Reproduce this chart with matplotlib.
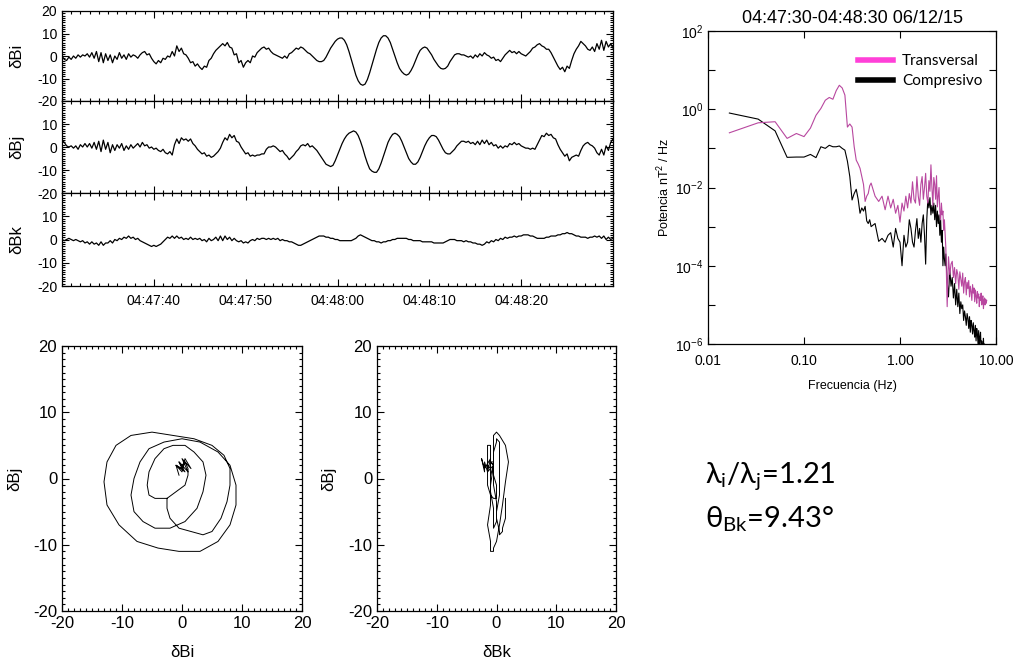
import numpy as np
import pandas as pd
import matplotlib
matplotlib.use("Agg")
import matplotlib.pyplot as plt
import matplotlib.dates as mdates
from matplotlib.ticker import MultipleLocator, FixedLocator, NullLocator, NullFormatter
from matplotlib.lines import Line2D

# ---- data: field components (nT), sampled every 0.25 s from 04:47:30 ----
dBi = [
    0.0, -1.5, -2.0, -0.5, -1.5, 0.0, -1.0, 0.5, -0.5, 0.5, 0.0, 1.0, -0.5, 1.5, -1.0, 2.0, -2.5, 1.5, -3.0, 1.0,
    -2.0, 0.5, -3.0, 0.0, -1.5, 1.5, -1.0, 0.5, -1.5, 1.0, -0.5, 0.5, 0.0, -1.0, 0.5, 1.5, 2.0, 0.5, 1.0, -1.0,
    -2.5, -3.5, -2.0, -3.0, -1.0, -1.5, 0.0, -0.5, 2.0, 0.0, 4.5, 2.0, 3.5, 1.0, 0.5, -1.0, -3.0, -2.5, -4.5, -3.5,
    -5.0, -6.0, -4.5, -5.0, -2.0, -1.0, 1.0, 2.5, 3.5, 4.5, 5.5, 4.5, 6.0, 4.0, 3.5, 0.5, 1.0, -3.0, -2.0, -5.0,
    -3.0, -2.0, -3.0, 0.0, -0.5, 1.5, 2.5, 3.5, 4.0, 3.0, 3.5, 2.0, 1.0, 0.5, 0.0, -0.5, -1.0, 0.0, -1.0, 1.0,
    1.5, 2.5, 3.5, 3.0, 4.0, 3.5, 2.5, 1.5, 1.0, 0.0, -1.0, -2.0, -2.5, -2.5, -2.0, -0.5, 1.5, 3.5, 5.0, 6.5,
    7.5, 8.0, 8.0, 7.0, 5.0, 2.0, -1.5, -5.0, -8.5, -11.0, -12.5, -13.0, -12.5, -10.5, -7.5, -4.0, -0.5, 3.0, 6.0, 8.0,
    9.0, 9.0, 8.0, 6.0, 3.0, 0.0, -3.0, -5.5, -7.0, -8.0, -8.5, -8.0, -6.5, -4.5, -2.0, 0.5, 2.5, 3.5, 4.0, 3.5,
    2.0, 0.5, -1.5, -3.0, -4.5, -5.5, -5.8, -5.5, -4.5, -2.5, -1.0, 0.5, 1.0, 1.0, 0.5, 0.5, 0.0, -0.5, 0.0, -1.0,
    0.5, -0.5, 1.0, 0.0, 1.5, 0.5, 0.0, -1.0, -0.5, -2.0, -1.5, -2.5, -1.0, 0.5, 1.5, 2.5, 1.5, 2.0, 1.0, 2.0,
    1.0, 0.5, 0.0, 1.0, 2.0, 3.5, 4.0, 5.0, 5.5, 4.5, 4.0, 3.0, 3.0, 1.5, -0.5, -2.5, -4.5, -6.0, -5.0, -7.0,
    -4.5, -5.5, -2.0, 1.0, 3.0, 4.5, 6.5, 5.5, 4.5, 3.0, 2.5, 4.0, 2.0, 5.5, 3.0, 7.0, 2.5, 6.5, 4.0, 5.5,
    3.5,
]
dBj = [
    3.0, 2.0, 0.5, 0.0, 0.5, -0.5, 0.5, -1.0, 1.0, 0.0, 1.5, 0.0, 1.5, -0.5, 2.0, -1.0, 2.5, -2.0, 3.0, -1.0,
    2.0, -2.5, 1.0, -1.5, 1.0, -0.5, 1.5, -1.5, 0.5, -1.0, 1.0, -0.5, 0.5, 1.5, 0.0, 2.0, 0.5, 1.0, -0.5, 0.0,
    -1.0, -0.5, -1.5, -2.0, -1.0, -2.5, -3.0, -2.0, -3.5, 1.0, 3.5, 1.5, 4.0, 3.0, 3.5, 2.5, 3.5, 1.5, 0.5, -1.0,
    -2.0, -3.0, -2.5, -4.0, -3.5, -4.5, -4.0, -3.0, -2.0, -0.5, 2.0, 4.0, 3.0, 5.5, 4.0, 5.0, 2.5, 2.0, 0.0, -1.5,
    -3.0, -2.5, -4.0, -3.5, -4.0, -3.5, -3.5, -3.0, -3.0, -1.0, 0.0, 0.0, 0.5, 0.0, -1.0, -2.0, -1.5, -3.0, -4.0, -5.5,
    -4.5, -3.5, -2.0, -1.0, 0.5, 1.0, 0.5, 1.5, 0.0, 0.5, -0.5, -1.5, -3.0, -4.5, -6.0, -7.5, -8.0, -8.5, -8.0, -6.0,
    -3.5, -1.0, 1.5, 3.5, 5.0, 6.0, 6.5, 7.0, 6.5, 5.0, 2.5, -0.5, -4.0, -7.0, -9.5, -10.5, -11.0, -11.0, -9.5, -7.0,
    -4.0, -1.0, 2.0, 4.0, 5.5, 6.0, 5.5, 4.5, 2.5, 0.0, -2.5, -5.0, -6.5, -7.5, -7.5, -6.5, -4.5, -2.0, 0.5, 2.5,
    4.0, 5.0, 5.0, 4.5, 3.0, 1.0, -1.0, -2.5, -3.0, -3.0, -2.0, -1.0, 0.5, 1.5, 2.5, 2.5, 2.0, 2.5, 1.5, 2.0,
    1.0, 2.5, 1.0, 3.0, 1.5, 3.0, 1.0, 2.0, 0.5, 1.0, -0.5, 0.5, -0.5, 0.5, 0.0, 1.5, 1.0, 2.0, 1.0, 1.5,
    0.5, 0.0, -0.5, -0.5, -1.0, -0.5, -1.0, 1.0, 3.0, 5.0, 4.5, 6.0, 5.0, 5.5, 4.0, 3.5, 1.0, -1.0, -2.5, -4.0,
    -3.0, -6.0, -4.5, -4.0, -3.5, -4.0, -1.5, 0.5, 1.5, 2.0, 1.0, 0.5, -0.5, -2.5, -3.5, -1.0, -3.5, 0.5, -1.5, 2.0,
    3.5,
]
dBk = [
    0.0, -0.5, 0.0, 0.5, 0.0, -0.5, 0.0, -0.5, -1.0, -0.5, -1.5, -1.0, -2.0, -1.0, -2.0, -1.5, -2.5, -1.0, -2.5, -1.5,
    -1.5, -0.5, -1.5, 0.0, -0.5, 0.5, 0.0, 1.0, 0.5, 1.5, 0.5, 1.0, 0.0, 0.5, -0.5, -1.0, -1.5, -2.0, -2.5, -3.0,
    -2.5, -3.0, -2.5, -2.0, -1.0, 0.0, 1.0, 0.5, 1.5, 0.5, 1.5, 0.5, 1.0, 0.0, 0.5, 0.0, 1.0, 0.0, 0.5, 0.0,
    0.5, -0.5, 0.0, -1.0, 0.5, -0.5, 0.0, 1.0, -0.5, 1.5, -0.5, 1.5, 0.0, 1.0, -0.5, 0.5, -0.5, -1.0, -0.5, -1.5,
    -1.0, -1.5, -0.5, 0.0, -0.5, 0.5, 0.0, 0.5, 0.5, 0.0, 0.5, 0.0, 0.5, 0.0, 0.5, -0.5, 0.0, -0.5, -0.5, -1.0,
    -1.0, -1.5, -2.0, -2.5, -2.5, -2.0, -1.5, -1.0, -0.5, 0.0, 0.5, 1.0, 1.5, 1.5, 1.5, 1.0, 1.0, 0.5, 0.5, 0.0,
    0.0, -0.5, -0.5, -0.5, -0.5, -0.5, -0.5, 0.0, 0.5, 1.5, 2.0, 1.5, 1.0, 0.5, 0.0, -0.5, -0.5, -1.0, -1.0, -1.5,
    -1.0, -1.0, -0.5, -0.5, 0.0, 0.0, 0.5, 0.5, 0.5, 0.5, 0.5, 0.0, 0.0, -0.5, -0.5, -0.5, -0.5, -1.0, -1.0, -1.0,
    -1.0, -1.0, -1.5, -1.5, -1.5, -1.5, -1.5, -1.0, -0.5, 0.0, 0.0, 0.0, -0.5, -0.5, -0.5, -1.0, -0.5, -1.0, -1.0, -1.5,
    -1.5, -2.0, -2.0, -2.5, -2.0, -1.0, -1.5, -0.5, -1.0, 0.0, -0.5, 0.5, 0.0, 1.0, 0.5, 1.0, 1.0, 1.5, 1.0, 1.5,
    1.5, 2.0, 2.0, 2.0, 1.5, 1.5, 1.0, 0.5, 0.5, 0.5, 0.5, 1.0, 1.0, 1.5, 1.5, 1.5, 2.0, 2.0, 2.5, 2.5,
    3.0, 2.5, 2.5, 2.0, 1.5, 1.5, 1.0, 1.0, 1.0, 0.5, 1.0, 1.0, 1.5, 1.0, 1.5, 0.5, 1.5, 0.0, 1.0, 0.0,
    0.5,
]
times = pd.date_range("2015-06-12 04:47:30", periods=len(dBi), freq="250ms")
time_ticks = ["04:47:40", "04:47:50", "04:48:00", "04:48:10", "04:48:20"]

# hodogram interval (wave packet): 04:47:58 - 04:48:17
hodo_start, hodo_end = 112, 189

# ---- power spectra ----
freq = [
    0.0167, 0.0333, 0.05, 0.0667, 0.0833, 0.1, 0.1167, 0.1333, 0.15, 0.1667,
    0.1833, 0.2, 0.2167, 0.2333, 0.25, 0.2667, 0.2833, 0.3, 0.3167, 0.3333,
    0.35, 0.3667, 0.3833, 0.4, 0.4167, 0.4333, 0.45, 0.4667, 0.4833, 0.5,
    0.55, 0.6, 0.65, 0.7, 0.75, 0.8, 0.85, 0.9, 0.95, 1.0,
    1.05, 1.1, 1.15, 1.2, 1.25, 1.3, 1.35, 1.4, 1.45, 1.5,
    1.55, 1.6, 1.65, 1.7, 1.75, 1.8, 1.85, 1.9, 1.95, 2.0,
    2.05, 2.1, 2.15, 2.2, 2.25, 2.3, 2.35, 2.4, 2.45, 2.5,
    2.55, 2.6, 2.65, 2.7, 2.75, 2.8, 2.85, 2.9, 2.95, 3.0,
    3.1, 3.2, 3.3, 3.4, 3.5, 3.6, 3.7, 3.8, 3.9, 4.0,
    4.1, 4.2, 4.3, 4.4, 4.5, 4.6, 4.7, 4.8, 4.9, 5.0,
    5.1, 5.2, 5.3, 5.4, 5.5, 5.6, 5.7, 5.8, 5.9, 6.0,
    6.1, 6.2, 6.3, 6.4, 6.5, 6.6, 6.7, 6.8, 6.9, 7.0,
    7.1, 7.2, 7.3, 7.4, 7.5, 7.6, 7.7, 7.8, 7.9, 8.0,
]
p_trans = [
    2.5e-1, 4.5e-1, 4.8e-1, 1.8e-1, 2.4e-1, 2.0e-1, 3.3e-1, 7.0e-1, 1.05, 1.7,
    2.0, 1.8, 3.0, 4.1, 3.5, 2.3, 3.5e-1, 4.2e-1, 3.5e-1, 1.1e-1,
    5.0e-2, 4.0e-2, 3.1e-2, 1.9e-2, 1.2e-2, 4.4e-3, 6.0e-3, 7.0e-3, 1.1e-2, 1.3e-2,
    6.0e-3, 4.4e-3, 6.0e-3, 2.7e-3, 6.0e-3, 3.0e-3, 5.0e-3, 2.2e-3, 3.5e-3, 1.3e-3,
    4.0e-3, 2.5e-3, 6.0e-3, 3.0e-3, 7.0e-3, 4.0e-3, 1.4e-2, 5.0e-3, 4.0e-3, 1.9e-2,
    6.0e-3, 3.5e-3, 1.2e-2, 1.9e-2, 5.0e-3, 1.0e-2, 2.3e-2, 6.0e-3, 4.0e-3, 1.5e-2,
    8.0e-3, 3.8e-2, 1.0e-2, 3.5e-3, 1.8e-2, 1.2e-2, 5.0e-3, 2.0e-2, 3.2e-3, 6.0e-3,
    1.0e-2, 2.5e-3, 1.5e-3, 4.0e-3, 2.0e-3, 2.5e-3, 8.0e-4, 1.5e-3, 7.0e-4, 3.0e-4,
    9.0e-6, 1.7e-4, 6.0e-5, 1.1e-4, 1.3e-4, 5.0e-5, 9.0e-5, 3.5e-5, 8.0e-5, 6.0e-5,
    2.5e-5, 7.0e-5, 4.5e-5, 3.0e-5, 6.5e-5, 2.0e-5, 4.0e-5, 5.0e-5, 1.8e-5, 3.8e-5,
    2.6e-5, 4.2e-5, 1.6e-5, 3.0e-5, 2.2e-5, 1.3e-5, 3.3e-5, 2.0e-5, 2.7e-5, 1.2e-5,
    2.4e-5, 1.7e-5, 1.1e-5, 2.2e-5, 1.5e-5, 1.9e-5, 9.0e-6, 1.6e-5, 1.3e-5, 2.0e-5,
    1.0e-5, 1.4e-5, 1.7e-5, 8.0e-6, 1.3e-5, 1.5e-5, 1.0e-5, 1.4e-5, 1.1e-5, 1.3e-5,
]
p_comp = [
    8.0e-1, 5.6e-1, 2.8e-1, 5.9e-2, 6.0e-2, 6.0e-2, 7.0e-2, 5.8e-2, 1.1e-1, 1.0e-1,
    1.2e-1, 1.1e-1, 1.1e-1, 1.15e-1, 1.0e-1, 9.0e-2, 4.7e-2, 1.9e-2, 4.8e-3, 7.0e-3,
    9.0e-3, 5.0e-3, 2.2e-3, 3.0e-3, 2.5e-3, 3.3e-3, 1.4e-3, 1.2e-3, 1.5e-3, 1.0e-3,
    1.2e-3, 4.2e-4, 5.0e-4, 4.0e-4, 6.0e-4, 7.0e-4, 3.0e-4, 9.0e-4, 5.0e-4, 4.0e-4,
    1.0e-4, 6.0e-4, 3.0e-4, 4.0e-4, 1.5e-3, 9.0e-4, 4.0e-4, 3.0e-4, 8.0e-4, 1.6e-3,
    5.0e-4, 9.0e-4, 4.0e-4, 1.2e-3, 2.0e-3, 6.0e-4, 1.1e-4, 1.5e-3, 5.0e-3, 3.0e-3,
    5.5e-3, 2.0e-3, 3.5e-3, 2.2e-3, 4.0e-3, 1.5e-3, 3.5e-3, 1.0e-3, 2.5e-3, 1.2e-3,
    2.0e-3, 6.0e-4, 1.5e-3, 4.0e-4, 8.0e-4, 1.0e-4, 3.0e-4, 1.5e-4, 1.0e-4, 2.0e-4,
    4.0e-5, 1.6e-5, 8.0e-5, 3.0e-5, 5.0e-5, 1.5e-5, 3.5e-5, 1.0e-5, 2.5e-5, 9.0e-6,
    2.0e-5, 6.0e-6, 1.2e-5, 8.0e-6, 1.0e-5, 4.0e-6, 7.0e-6, 5.0e-6, 3.0e-6, 6.0e-6,
    4.5e-6, 2.5e-6, 5.0e-6, 2.0e-6, 4.0e-6, 3.0e-6, 1.8e-6, 3.5e-6, 2.2e-6, 1.5e-6,
    3.0e-6, 1.2e-6, 2.5e-6, 1.8e-6, 1.0e-6, 2.2e-6, 8.0e-7, 1.5e-6, 2.0e-6, 7.0e-7,
    1.2e-6, 9.0e-7, 5.0e-7, 1.4e-6, 6.0e-7, 1.0e-6, 4.0e-7, 8.0e-7, 5.0e-7, 3.0e-7,
]
spec_title = "04:47:30-04:48:30 06/12/15"
ratio_text = r"$\mathrm{\lambda_i/\lambda_j}$=1.21"
angle_text = r"$\mathrm{\theta_{Bk}}$=9.43°"

# ---- figure ----
plt.rcParams["font.family"] = ["Liberation Sans", "DejaVu Sans"]
plt.rcParams["axes.unicode_minus"] = False
plt.rcParams["mathtext.fontset"] = "custom"
plt.rcParams["mathtext.rm"] = "Lato"
plt.rcParams["mathtext.it"] = "Lato:italic"

W, H = 1019, 664
fig = plt.figure(figsize=(W / 100, H / 100), dpi=100)


def px_rect(l, t, r, b):
    return [l / W, 1 - b / H, (r - l) / W, (b - t) / H]


def idl_ticks(ax, size):
    ax.tick_params(which="both", direction="in", top=True, right=True, labelsize=size, width=0.8)
    ax.tick_params(which="major", length=5)
    ax.tick_params(which="minor", length=2.5)
    for s in ax.spines.values():
        s.set_linewidth(0.9)


# time series panels
panel_bounds = [(11, 101), (101, 193), (193, 286)]
series = [dBi, dBj, dBk]
names = ["δBi", "δBj", "δBk"]
t0 = pd.Timestamp("2015-06-12 04:47:30")
t1 = pd.Timestamp("2015-06-12 04:48:30")
for i, (top, bot) in enumerate(panel_bounds):
    ax = fig.add_axes(px_rect(62, top, 613, bot))
    ax.plot(times, series[i], color="black", lw=0.9)
    ax.set_xlim(t0, t1)
    ax.set_ylim(-20, 20)
    ax.set_yticks([-20, -10, 0, 10, 20] if i == 0 else [-20, -10, 0, 10])
    ax.yaxis.set_minor_locator(MultipleLocator(1))
    ax.set_xticks([pd.Timestamp("2015-06-12 " + s) for s in time_ticks])
    ax.xaxis.set_minor_locator(mdates.SecondLocator())
    ax.xaxis.set_major_formatter(mdates.DateFormatter("%H:%M:%S"))
    idl_ticks(ax, 10)
    ax.tick_params(axis="x", pad=6)
    if i < 2:
        ax.tick_params(axis="x", labelbottom=False)
    ax.set_ylabel(names[i], fontsize=12)
    ax.yaxis.set_label_coords(-0.068, 0.5)

# hodograms
hodo = [(62, 302, dBi, "δBi", -0.165), (377, 616, dBk, "δBk", -0.17)]
for l, r, xs, xname, ylab_x in hodo:
    ax = fig.add_axes(px_rect(l, 346, r, 611))
    ax.plot(xs[hodo_start:hodo_end], dBj[hodo_start:hodo_end], color="black", lw=0.7)
    ax.set_xlim(-20, 20)
    ax.set_ylim(-20, 20)
    ax.set_xticks([-20, -10, 0, 10, 20])
    ax.set_yticks([-20, -10, 0, 10, 20])
    ax.xaxis.set_minor_locator(MultipleLocator(1))
    ax.yaxis.set_minor_locator(MultipleLocator(1))
    idl_ticks(ax, 12)
    ax.set_xlabel(xname, fontsize=12)
    ax.set_ylabel("δBj", fontsize=12)
    ax.xaxis.set_label_coords(0.5, -0.13)
    ax.yaxis.set_label_coords(ylab_x, 0.5)

# spectrum
ax = fig.add_axes(px_rect(708, 31, 996, 344))
ax.loglog(freq, p_comp, color="black", lw=0.8)
ax.loglog(freq, p_trans, color="#b8479f", lw=0.8)
ax.set_xlim(0.01, 10)
ax.set_ylim(1e-6, 1e2)
ax.xaxis.set_major_locator(FixedLocator([0.01, 0.1, 1, 10]))
ax.xaxis.set_minor_locator(NullLocator())
ax.set_xticklabels(["0.01", "0.10", "1.00", "10.00"])
ax.yaxis.set_major_locator(FixedLocator([1e-6, 1e-4, 1e-2, 1, 1e2]))
ax.yaxis.set_minor_locator(FixedLocator([1e-5, 1e-3, 1e-1, 1e1]))
ax.yaxis.set_minor_formatter(NullFormatter())
idl_ticks(ax, 10)
ax.tick_params(which="minor", length=5)
ax.tick_params(axis="x", pad=7)
ax.set_title(spec_title, fontsize=13, pad=6)
ax.set_xlabel("Frecuencia (Hz)", fontsize=9)
ax.set_ylabel("Potencia nT$^2$ / Hz", fontsize=9)
ax.xaxis.set_label_coords(0.5, -0.115)
ax.yaxis.set_label_coords(-0.125, 0.5)
handles = [Line2D([], [], color="#ff40d8", lw=4), Line2D([], [], color="black", lw=4)]
ax.legend(handles, ["Transversal", "Compresivo"], loc="upper right", frameon=False,
          prop={"family": "Lato", "size": 11}, handlelength=2.3, handletextpad=0.6,
          labelspacing=0.4, bbox_to_anchor=(1.0, 0.97))

# eigenvalue ratio and angle
fig.text(705 / W, 1 - 483 / H, ratio_text, fontsize=21, family="Lato")
fig.text(705 / W, 1 - 527 / H, angle_text, fontsize=21, family="Lato")

fig.savefig("out.png", dpi=100)
